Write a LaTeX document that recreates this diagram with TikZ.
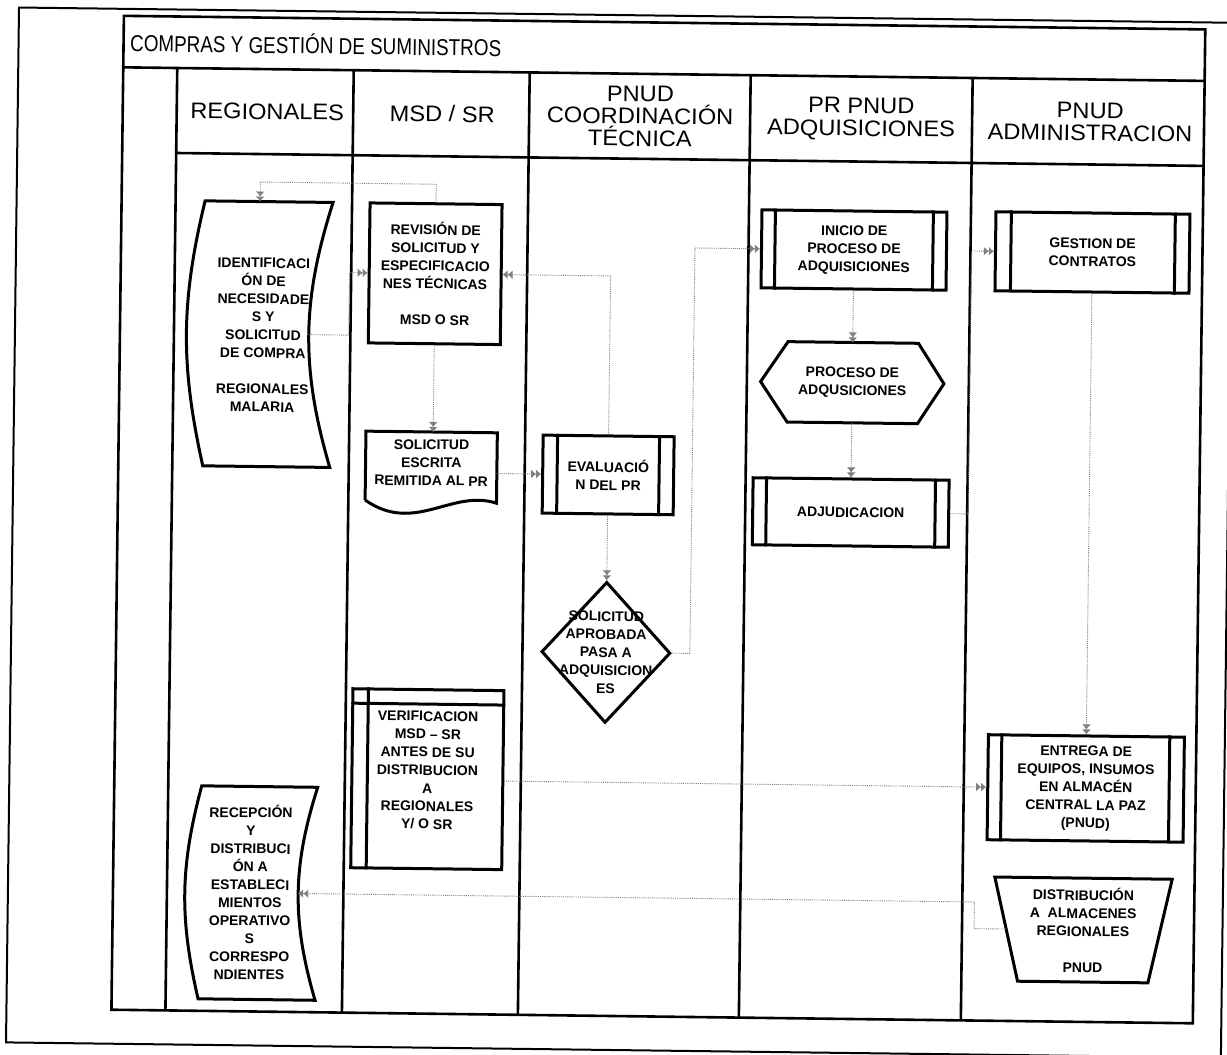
\documentclass[tikz,border=0pt]{standalone}
\usepackage{fontspec}
\setmainfont{Liberation Sans}
\newfontfamily\narrowfont[FakeStretch=0.82]{Liberation Sans}
\newfontfamily\headfont[FakeStretch=1.05]{Liberation Sans}
\usetikzlibrary{shapes,arrows.meta}

\begin{document}
\begin{tikzpicture}[x=1pt,y=-1pt]

\tikzstyle{page}=[line width=2pt]
\tikzstyle{lane}=[line width=2.6pt]
\tikzstyle{boxline}=[line width=3pt, line join=miter]
\tikzstyle{boxtext}=[font=\fontsize{14}{18}\selectfont\bfseries, align=center, inner sep=0pt]
\tikzstyle{process}=[rectangle, draw, boxline, boxtext]
\tikzstyle{subproc}=[process]
\tikzstyle{decision}=[diamond, draw, boxline, inner sep=0pt]
\tikzstyle{lanehead}=[font=\headfont\fontsize{22.5}{22.5}\selectfont, align=center, inner sep=0pt]
\tikzstyle{flow}=[draw=gray, densely dotted, line width=0.9pt, -{Latex[length=5pt,width=9pt] Latex[length=5pt,width=9pt]}]

\fill[white] (0,0) rectangle (1227,1055);
\useasboundingbox (0,0) rectangle (1227,1055);

\begin{scope}[rotate around={-0.72:(613.5,527.5)}, transform shape]

%page and frame
\draw[page] (12.5,15) rectangle (1227.5,1050);
\draw[lane] (117.5,22) rectangle (1199,1016);
\draw[lane] (117.5,73.5) -- (1199,73.5);
\draw[lane] (171.5,158.5) -- (1199,158.5);
\draw[lane] (171.5,73.5) -- (171.5,1016);
\draw[lane] (348,73.5) -- (348,1016);
\draw[lane] (524,73.5) -- (524,1016);
\draw[lane] (745,73.5) -- (745,1016);
\draw[lane] (967,73.5) -- (967,1016);

%titles
\node[anchor=west, inner sep=0pt, font=\narrowfont\fontsize{23}{26}\selectfont] (title) at (124,47.75) {COMPRAS Y GESTIÓN DE SUMINISTROS};
\node[lanehead] (h1) at (262,116) {REGIONALES};
\node[lanehead] (h2) at (437,116) {MSD / SR};
\node[lanehead] (h3) at (635,116) {PNUD\\COORDINACIÓN\\TÉCNICA};
\node[lanehead] (h4) at (856,116) {PR PNUD\\ADQUISICIONES};
\node[lanehead] (h5) at (1085,116) {PNUD\\ADMINISTRACION};

%regionales
\draw[boxline] (202,471) to[bend left=13] (201,206) -- coordinate[pos=.43] (idt) (329,206) to[bend right=17] coordinate[pos=.5] (idr) (329,471) -- cycle;
\node[boxtext] (id) at (260.6,339.4) {IDENTIFICACI\\ÓN DE\\NECESIDADE\\S Y\\SOLICITUD\\DE COMPRA\\[18pt]REGIONALES\\MALARIA};

\draw[boxline] (204,1004) to[bend left=14] (205,791) -- (321,791) to[bend right=17] coordinate[pos=.5] (recr) (321,1004) -- cycle;
\node[boxtext] (rec) at (254.6,897) {RECEPCIÓN\\Y\\DISTRIBUCI\\ÓN A\\ESTABLECI\\MIENTOS\\OPERATIVO\\S\\CORRESPO\\NDIENTES};

%msd / sr
\node[process, minimum width=132pt, minimum height=140pt] (rev) at (432,276) {REVISIÓN DE\\SOLICITUD Y\\ESPECIFICACIO\\NES TÉCNICAS\\[18pt]MSD O SR};

\node[boxtext, minimum width=131pt, minimum height=61pt] (sol) at (430.5,465) {SOLICITUD\\ESCRITA\\REMITIDA AL PR};
\draw[boxline] ([yshift=-7.5pt]sol.south west) -- (sol.north west) -- (sol.north east) -- ([yshift=-9pt]sol.south east) .. controls +(-45,-14) and +(50,34) .. ([yshift=-7.5pt]sol.south west);

\node[process, minimum width=151pt, minimum height=179pt] (ver) at (430.5,781.5) {VERIFICACION\\MSD -- SR\\ANTES DE SU\\DISTRIBUCION\\A\\REGIONALES\\Y/ O SR\\\mbox{}};
\draw[boxline] ([xshift=17pt]ver.north west) -- ([xshift=17pt]ver.south west);
\draw[boxline] ([yshift=-16pt]ver.north west) -- ([yshift=-16pt]ver.north east);

%coordinacion tecnica
\node[subproc, minimum width=131pt, minimum height=78pt] (ev) at (607.5,475) {EVALUACIÓ\\N DEL PR};
\draw[boxline] ([xshift=16pt]ev.north west) -- ([xshift=16pt]ev.south west);
\draw[boxline] ([xshift=-16pt]ev.north east) -- ([xshift=-16pt]ev.south east);

\node[decision, minimum width=129pt, minimum height=141pt] (dec) at (607.5,652.5) {};
\node[boxtext] (dectxt) at (dec) {SOLICITUD\\APROBADA\\PASA A\\ADQUISICION\\ES};

%adquisiciones
\node[subproc, minimum width=185pt, minimum height=78pt] (ini) at (850.5,247) {INICIO DE\\PROCESO DE\\ADQUISICIONES};
\draw[boxline] ([xshift=15pt]ini.north west) -- ([xshift=15pt]ini.south west);
\draw[boxline] ([xshift=-15pt]ini.north east) -- ([xshift=-15pt]ini.south east);

\node[boxtext, minimum width=183pt, minimum height=80pt] (hx) at (850.5,379.7) {PROCESO DE\\ADQUSICIONES};
\draw[boxline] (hx.west) -- ([xshift=27pt]hx.north west) -- ([xshift=-26pt]hx.north east) -- (hx.east) -- ([xshift=-26pt]hx.south east) -- ([xshift=27pt]hx.south west) -- cycle;

\node[subproc, minimum width=196pt, minimum height=67pt] (adj) at (850.5,509.5) {ADJUDICACION};
\draw[boxline] ([xshift=15pt]adj.north west) -- ([xshift=15pt]adj.south west);
\draw[boxline] ([xshift=-15pt]adj.north east) -- ([xshift=-15pt]adj.south east);

%administracion
\node[subproc, minimum width=194pt, minimum height=79pt] (gest) at (1089,246.5) {GESTION DE\\CONTRATOS};
\draw[boxline] ([xshift=17pt]gest.north west) -- ([xshift=17pt]gest.south west);
\draw[boxline] ([xshift=-16pt]gest.north east) -- ([xshift=-16pt]gest.south east);

\node[subproc, minimum width=196pt, minimum height=105pt] (ent) at (1089,782.5) {ENTREGA DE\\EQUIPOS, INSUMOS\\EN ALMACÉN\\CENTRAL LA PAZ\\(PNUD)};
\draw[boxline] ([xshift=15pt]ent.north west) -- ([xshift=15pt]ent.south west);
\draw[boxline] ([xshift=-16pt]ent.north east) -- ([xshift=-16pt]ent.south east);

\node[boxtext, minimum width=177pt, minimum height=103.5pt] (dis) at (1088,924.25) {DISTRIBUCIÓN\\A~ ALMACENES\\REGIONALES\\[18pt]PNUD};
\draw[boxline] ([xshift=24pt]dis.south west) -- coordinate[pos=.5] (disl) (dis.north west) -- (dis.north east) -- ([xshift=-23pt]dis.south east) -- cycle;

%connections
\draw[flow] (idr) -- ++(40,0) |- (rev.west);
\draw[flow] (rev.north) -- ++(0,-18) -| (idt);
\draw[flow] (rev.south) -- (rev.south |- sol.north);
\draw[flow] (sol.east |- ev.west) -- (ev.west);
\draw[flow] (ev.north) |- (rev.east);
\draw[flow] (ev.south) -- (dec.north);
\draw[flow] (dec.east) -- ++(18,0) |- (ini.west);
\draw[flow] (ini.south) -- (hx.north);
\draw[flow] (hx.south) -- (adj.north);
\draw[flow] (adj.east) -- ++(18,0) |- (gest.west);
\draw[flow] (gest.south) -- (ent.north);
\draw[flow] (ver.east |- ent.west) -- (ent.west);
\draw[flow] (disl) -- ++(-32,0) |- (recr);

\end{scope}

\end{tikzpicture}
\end{document}
